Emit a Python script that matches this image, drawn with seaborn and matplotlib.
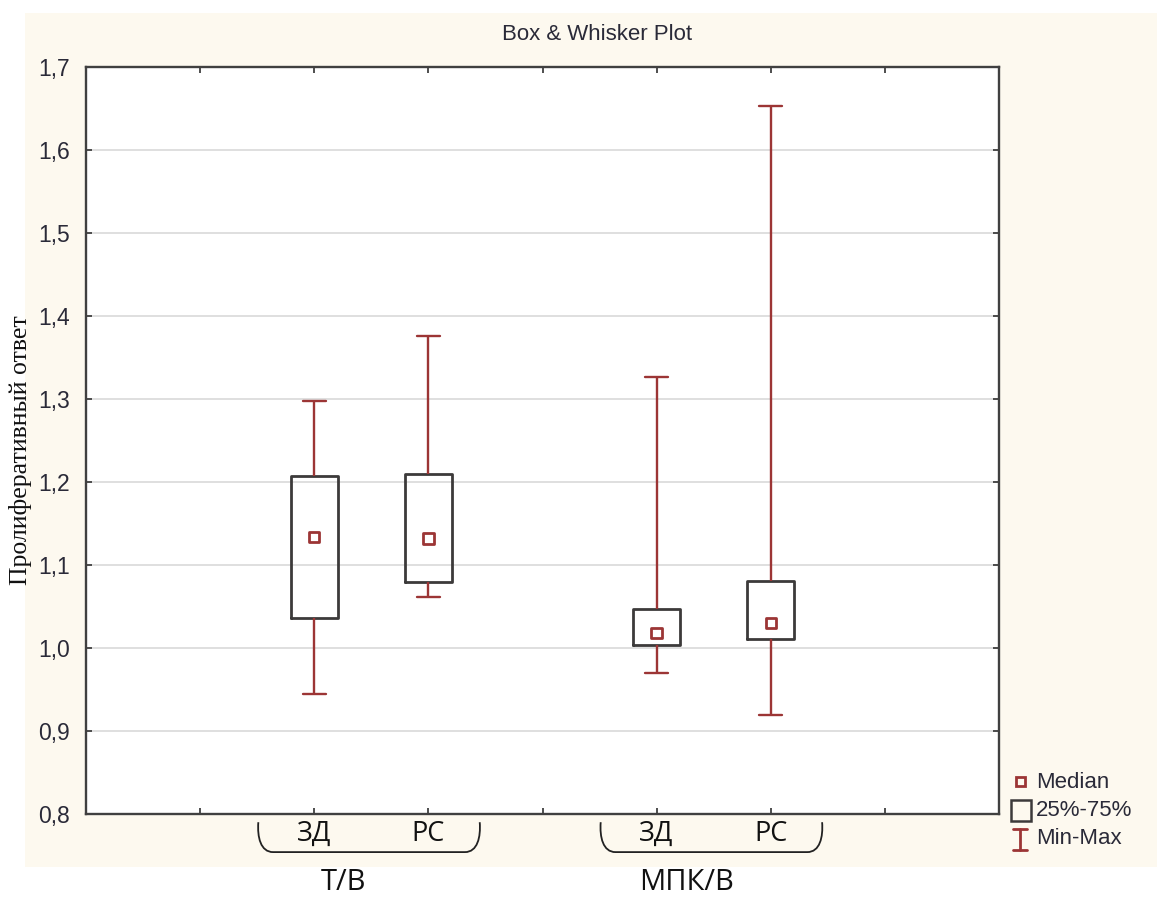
import numpy as np
import pandas as pd
import matplotlib
matplotlib.use("Agg")
import matplotlib.pyplot as plt
from matplotlib.patches import Rectangle, PathPatch
from matplotlib.path import Path
from matplotlib.lines import Line2D
import matplotlib.transforms as mtransforms
import seaborn as sns

# Five-number summaries of the proliferative response
groups = ["Т/В", "МПК/В"]
subgroups = ["ЗД", "РС"]
mins = [0.945, 1.061, 0.970, 0.919]
q1s = [1.036, 1.079, 1.004, 1.011]
medians = [1.134, 1.132, 1.018, 1.030]
q3s = [1.207, 1.210, 1.047, 1.081]
maxs = [1.297, 1.376, 1.327, 1.653]
yticks = [0.8, 0.9, 1.0, 1.1, 1.2, 1.3, 1.4, 1.5, 1.6, 1.7]

RED = "#9c3535"
BOXC = "#3c3a3a"
TXT = "#2a2a38"
CREAM = "#fdf9ef"

sns.set_style("white")
plt.rcParams["font.family"] = ["Liberation Sans", "DejaVu Sans"]

W, H = 1157, 897
fig = plt.figure(figsize=(W / 100, H / 100), dpi=100)
fig.patch.set_facecolor("white")
fig.patches.append(Rectangle((25 / W, 1 - 867 / H), (W - 25) / W, (867 - 13) / H,
                             transform=fig.transFigure, facecolor=CREAM,
                             edgecolor="none", zorder=-10))

ax = fig.add_axes([86 / W, 1 - 814 / H, (999 - 86) / W, (814 - 67) / H])
ax.set_facecolor("white")

# Box positions: two groups of two, with an empty slot between groups
positions = []
labels = []
for gi, g in enumerate(groups):
    for si, s in enumerate(subgroups):
        positions.append(2 + 3 * gi + si)
        labels.append(s)

rows = []
for p, lo, a, m, b, hi in zip(positions, mins, q1s, medians, q3s, maxs):
    for v in (lo, a, m, b, hi):
        rows.append({"pos": p, "value": v})
df = pd.DataFrame(rows)

sns.boxplot(data=df, x="pos", y="value", native_scale=True, whis=(0, 100),
            width=0.41, fill=False, showfliers=False, color=BOXC, linewidth=2.0,
            boxprops=dict(color=BOXC, linewidth=2.0),
            whiskerprops=dict(color=RED, linewidth=1.7),
            capprops=dict(color=RED, linewidth=1.7),
            medianprops=dict(visible=False),
            ax=ax, zorder=3)

sns.scatterplot(x=positions, y=medians, marker="s", s=55, facecolor="none",
                edgecolor=RED, linewidth=2.0, ax=ax, zorder=5)

ax.set_xlim(0, 8)
ax.set_ylim(0.8, 1.7)
ax.set_xticks(range(1, 8))
ax.set_xticklabels([])
ax.set_yticks(yticks)
ax.set_yticklabels([f"{t:.1f}".replace(".", ",") for t in yticks],
                   fontsize=16.5, color=TXT)
ax.set_xlabel("")
ax.set_ylabel("")
ax.grid(axis="y", color="#d9d9d9", linewidth=1.2, zorder=0)
ax.set_axisbelow(True)
for sp in ax.spines.values():
    sp.set_visible(True)
    sp.set_color("#404040")
    sp.set_linewidth(1.7)
ax.tick_params(axis="both", direction="in", length=4, width=1.3, color="#404040",
               top=True, right=True, bottom=True, left=True, pad=11.5)

# Category labels, braces and group names below the axis
tr = mtransforms.blended_transform_factory(ax.transData, ax.transAxes)
for p, lab in zip(positions, labels):
    ax.text(p, -0.027, lab, transform=tr, ha="center", va="center",
            fontsize=19.5, family=["Open Sans", "DejaVu Sans"], color="#111111")

yt, yb = -0.011, -0.051
for gi, g in enumerate(groups):
    x0 = positions[2 * gi] - 0.49
    x1 = positions[2 * gi + 1] + 0.45
    d = 0.13
    verts = [(x0, yt), (x0 - 0.01, yb + 0.02), (x0 + 0.02, yb), (x0 + d, yb),
             (x1 - d, yb),
             (x1 - 0.02, yb), (x1 + 0.01, yb + 0.02), (x1, yt)]
    codes = [Path.MOVETO, Path.CURVE4, Path.CURVE4, Path.CURVE4,
             Path.LINETO,
             Path.CURVE4, Path.CURVE4, Path.CURVE4]
    ax.add_patch(PathPatch(Path(verts, codes), transform=tr, fill=False,
                           edgecolor="#222222", linewidth=1.3, clip_on=False))
    xc = (positions[2 * gi] + positions[2 * gi + 1]) / 2 - 0.24
    ax.text(xc, -0.092, g, transform=tr, ha="center", va="center",
            fontsize=21, family=["Open Sans", "DejaVu Sans"], color="#111111")

fig.text(597 / W, 1 - 35 / H, "Box & Whisker Plot", ha="center", va="center",
         fontsize=16, color=TXT)
fig.text(21 / W, 1 - 450 / H, "Пролиферативный ответ", rotation=90,
         ha="center", va="center", fontsize=18.5,
         family=["Liberation Serif", "DejaVu Serif"], color="#111111")

# Legend drawn in figure pixel coordinates
px = mtransforms.Affine2D().scale(1 / W, -1 / H).translate(0, 1) + fig.transFigure
fig.add_artist(Rectangle((1016, 777), 9, 9, transform=px, fill=False,
                         edgecolor=RED, linewidth=2.0))
fig.add_artist(Rectangle((1011, 800), 20, 21, transform=px, fill=False,
                         edgecolor=BOXC, linewidth=1.8))
for seg in ([(1020, 1020), (829, 850)], [(1013, 1027), (829, 829)],
            [(1013, 1027), (850, 850)]):
    fig.add_artist(Line2D(seg[0], seg[1], transform=px, color=RED, linewidth=2.0))
for ty, t in ((782, "Median"), (810, "25%-75%"), (838, "Min-Max")):
    fig.text(1036 / W, 1 - ty / H, t, ha="left", va="center", fontsize=16,
             color=TXT)

fig.savefig("out.png", dpi=100, facecolor=fig.get_facecolor())
